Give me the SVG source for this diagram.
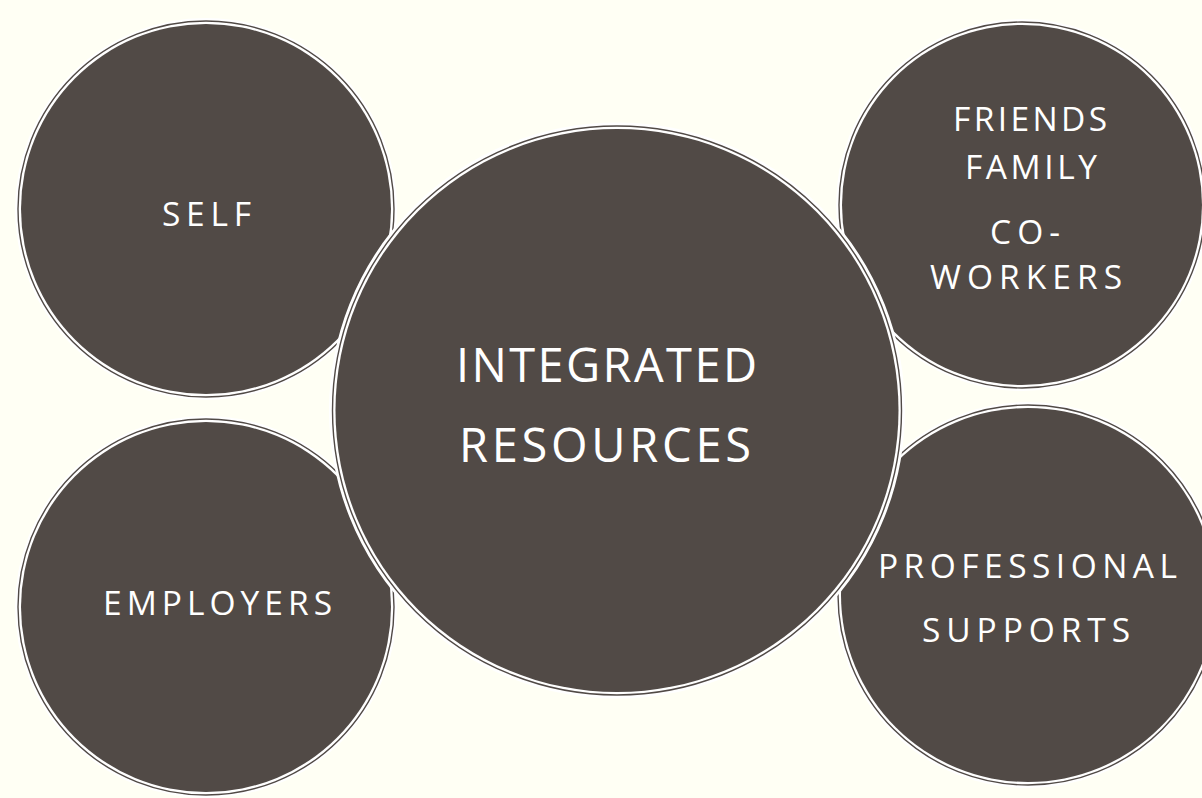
<svg xmlns="http://www.w3.org/2000/svg" width="1202" height="798" viewBox="0 0 1202 798">
<style>
.fill{fill:#514a46}
.halo{fill:none;stroke:#ffffff;stroke-width:8}
.ring{fill:none;stroke:#514a46;stroke-width:1.4}
.t{fill:#ffffff;font-family:"Open Sans","Noto Sans",sans-serif;text-anchor:middle}
.s{font-size:33.5px}
.l{font-size:47px}
</style>
<rect width="1202" height="798" fill="#fffff4"/>
<g id="self">
<circle class="halo" cx="206" cy="209" r="187"/>
<circle class="fill" cx="206" cy="209" r="185"/>
<circle class="ring" cx="206" cy="209" r="188"/>
<text class="t s" x="206.5" y="226" textLength="89" lengthAdjust="spacing">SELF</text>
</g>
<g id="employers">
<circle class="halo" cx="206" cy="607" r="187"/>
<circle class="fill" cx="206" cy="607" r="185"/>
<circle class="ring" cx="206" cy="607" r="188"/>
<text class="t s" x="217.5" y="615" textLength="229" lengthAdjust="spacing">EMPLOYERS</text>
</g>
<g id="friends">
<circle class="halo" cx="1022" cy="205" r="182"/>
<circle class="fill" cx="1022" cy="205" r="180"/>
<circle class="ring" cx="1022" cy="205" r="183"/>
<text class="t s" x="1030" y="131" textLength="154" lengthAdjust="spacing">FRIENDS</text>
<text class="t s" x="1031" y="179" textLength="132" lengthAdjust="spacing">FAMILY</text>
<text class="t s" x="1025" y="244" textLength="70" lengthAdjust="spacing">CO-</text>
<text class="t s" x="1026" y="289" textLength="192" lengthAdjust="spacing">WORKERS</text>
</g>
<g id="professional">
<circle class="halo" cx="1028" cy="595" r="189"/>
<circle class="fill" cx="1028" cy="595" r="187"/>
<circle class="ring" cx="1028" cy="595" r="190"/>
<text class="t s" x="1027.5" y="578" textLength="299" lengthAdjust="spacing">PROFESSIONAL</text>
<text class="t s" x="1026" y="642" textLength="208" lengthAdjust="spacing">SUPPORTS</text>
</g>
<g id="center">
<circle class="halo" cx="617" cy="410.5" r="284"/>
<circle class="fill" cx="617" cy="410.5" r="281.5"/>
<circle class="ring" cx="617" cy="410.5" r="284.5"/>
<text class="t l" x="606.5" y="382" textLength="301" lengthAdjust="spacing">INTEGRATED</text>
<text class="t l" x="605" y="462" textLength="292" lengthAdjust="spacing">RESOURCES</text>
</g>
<g id="connectors"></g>
</svg>
